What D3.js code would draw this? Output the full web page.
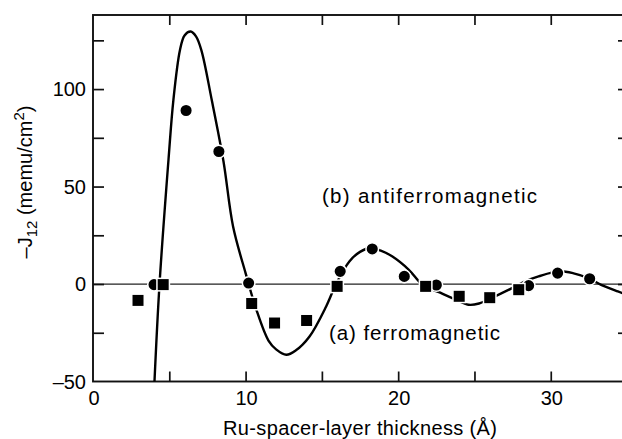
<!DOCTYPE html>
<html>
<head>
<meta charset="utf-8">
<script src="https://cdn.jsdelivr.net/npm/d3@7"></script>
<style>
  html, body { margin: 0; padding: 0; background: #fff; }
  svg { display: block; }
  text { font-family: "Liberation Sans", Arial, sans-serif; fill: #000; }
</style>
</head>
<body>
<svg id="chart" width="622" height="439"></svg>
<script>
// ---- data ----
const xMajorTicks = [0, 10, 20, 30];
const xAllTicks = [5, 10, 15, 20, 25, 30];
const yMajorTicks = [-50, 0, 50, 100];
const yAllTicks = [-25, 0, 25, 50, 75, 100, 125];

// antiferromagnetic samples (circles)
const circleX = [4.0, 6.1, 8.25, 10.2, 16.2, 18.3, 20.4, 22.5, 28.55, 30.45, 32.55];
const circleY = [-0.3, 89, 68, 0.5, 6.5, 18, 3.9, -0.5, -0.8, 5.6, 2.7];

// ferromagnetic samples (squares)
const squareX = [2.95, 4.6, 10.4, 11.9, 14.0, 16.0, 21.8, 24.0, 26.0, 27.9];
const squareY = [-8.4, -0.3, -10, -20, -18.7, -1.2, -1.2, -6.3, -7.0, -2.9];

// fitted curve
const curveX = [4.0, 4.36, 4.95, 5.27, 5.7, 6.0, 6.4, 6.75, 7.1, 7.78, 8.55, 9.18, 10.0, 10.7, 11.5, 12.0, 12.67, 13.3, 14.19, 15.28, 15.93, 16.8, 17.5, 18.2, 18.9, 19.6, 20.7, 21.6, 22.67, 23.76, 24.6, 25.3, 25.9, 27.7, 28.3, 29.2, 30.5, 31.5, 32.45, 33.3, 34.4, 35.0];
const curveY = [-55, 0, 64, 94.5, 120, 127.5, 129.5, 127, 120, 94.5, 63, 29.5, 5.6, -13, -29, -33.5, -36.3, -34, -26.9, -11.5, 0, 11.6, 16.5, 18.5, 17, 14.2, 7.3, -0.4, -4.2, -8, -10.6, -10, -8, -1.2, 1.3, 3.9, 6.5, 5.5, 3.1, -0.4, -3.8, -5.5];

// ---- layout ----
const svg = d3.select("#chart");
const x = d3.scaleLinear().domain([0, 34.8]).range([93, 624]);
const y = d3.scaleLinear().domain([-50, 138]).range([381.5, 15]);
const [x0, x1] = x.range();
const [yb, yt] = y.range();

svg.append("defs").append("clipPath").attr("id", "plotclip")
  .append("rect").attr("x", x0).attr("y", yt).attr("width", x1 - x0).attr("height", yb - yt);

// zero line
svg.append("line")
  .attr("x1", x0).attr("x2", 622).attr("y1", y(0)).attr("y2", y(0))
  .attr("stroke", "#222").attr("stroke-width", 1.3);

// frame
svg.append("rect")
  .attr("x", x0).attr("y", yt).attr("width", x1 - x0).attr("height", yb - yt)
  .attr("fill", "none").attr("stroke", "#111").attr("stroke-width", 1.9);

// bottom axis (ticks inward), labels
const axB = svg.append("g").attr("transform", `translate(0,${yb})`)
  .call(d3.axisBottom(x).tickValues(xAllTicks).tickSize(-10).tickFormat(""));
axB.select(".domain").remove();
axB.selectAll(".tick line").attr("stroke", "#111").attr("stroke-width", 1.7);

svg.append("g").selectAll("text").data(xMajorTicks).join("text")
  .attr("x", d => x(d) + 1).attr("y", 405)
  .attr("text-anchor", "middle").attr("font-size", 20).text(d => d);

// top axis (ticks inward)
const axT = svg.append("g").attr("transform", `translate(0,${yt})`)
  .call(d3.axisTop(x).tickValues(xAllTicks).tickSize(-10).tickFormat(""));
axT.select(".domain").remove();
axT.selectAll(".tick line").attr("stroke", "#111").attr("stroke-width", 1.7);

// left axis (ticks inward)
const axL = svg.append("g").attr("transform", `translate(${x0},0)`)
  .call(d3.axisLeft(y).tickValues(yAllTicks).tickSize(-11).tickFormat(""));
axL.select(".domain").remove();
axL.selectAll(".tick line").attr("stroke", "#111").attr("stroke-width", 1.7);

svg.append("g").selectAll("text").data(yMajorTicks).join("text")
  .attr("x", 86).attr("y", d => y(d) + 7)
  .attr("text-anchor", "end").attr("font-size", 20)
  .text(d => d < 0 ? "\u2013" + Math.abs(d) : d);

// right axis (ticks inward)
const axR = svg.append("g").attr("transform", `translate(${x1},0)`)
  .call(d3.axisRight(y).tickValues(yAllTicks).tickSize(-6).tickFormat(""));
axR.select(".domain").remove();
axR.selectAll(".tick line").attr("stroke", "#111").attr("stroke-width", 1.7);

// curve
const line = d3.line()
  .x((d, i) => x(curveX[i])).y((d, i) => y(curveY[i]))
  .curve(d3.curveCatmullRom.alpha(0.5));
svg.append("path")
  .datum(curveX)
  .attr("clip-path", "url(#plotclip)")
  .attr("d", line)
  .attr("fill", "none").attr("stroke", "#000").attr("stroke-width", 2.4);

// markers
const circles = circleX.map((v, i) => ({ x: v, y: circleY[i] }));
const squares = squareX.map((v, i) => ({ x: v, y: squareY[i] }));

svg.append("g").selectAll("circle").data(circles).join("circle")
  .attr("cx", d => x(d.x)).attr("cy", d => y(d.y)).attr("r", 6.3)
  .attr("fill", "#000").attr("stroke", "#fff").attr("stroke-width", 1.5);

const sq = 12.5;
svg.append("g").selectAll("rect").data(squares).join("rect")
  .attr("x", d => x(d.x) - sq / 2).attr("y", d => y(d.y) - sq / 2)
  .attr("width", sq).attr("height", sq)
  .attr("fill", "#000").attr("stroke", "#fff").attr("stroke-width", 1.5);

// annotations
svg.append("text").attr("x", 322).attr("y", 203).attr("font-size", 20.5)
  .attr("textLength", 215).attr("lengthAdjust", "spacing")
  .text("(b) antiferromagnetic");
svg.append("text").attr("x", 329).attr("y", 340).attr("font-size", 20.5)
  .attr("textLength", 171).attr("lengthAdjust", "spacing")
  .text("(a) ferromagnetic");

// x axis title
svg.append("text").attr("x", 223).attr("y", 435).attr("font-size", 20)
  .attr("textLength", 274).attr("lengthAdjust", "spacing")
  .text("Ru-spacer-layer thickness (\u00C5)");

// y axis title
const ytitle = svg.append("text")
  .attr("transform", "translate(32,182) rotate(-90)")
  .attr("text-anchor", "middle").attr("font-size", 20);
ytitle.append("tspan").text("\u2013J");
ytitle.append("tspan").attr("font-size", 15).attr("dy", 5).text("12");
ytitle.append("tspan").attr("dy", -5).text(" (memu/cm");
ytitle.append("tspan").attr("font-size", 15).attr("dy", -8).text("2");
ytitle.append("tspan").attr("dy", 8).text(")");
</script>
</body>
</html>
